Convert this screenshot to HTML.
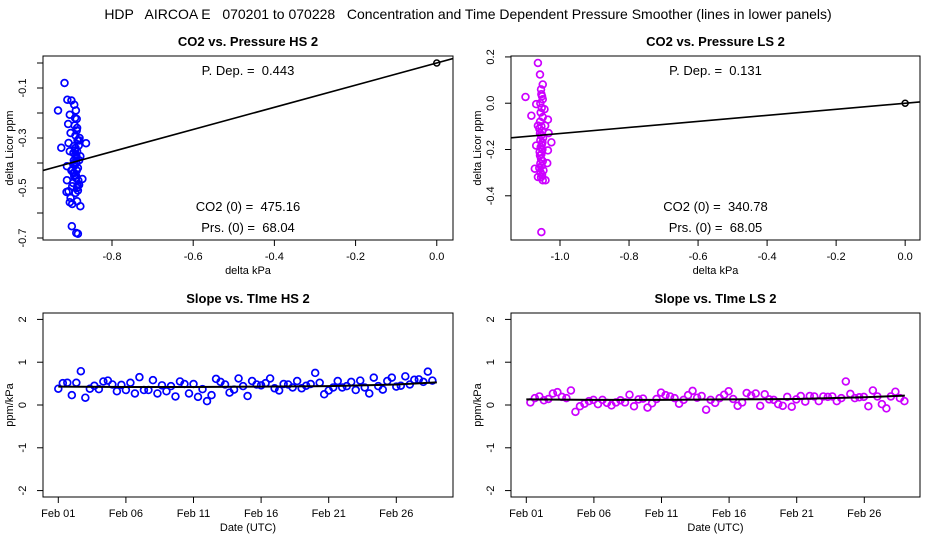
<!DOCTYPE html>
<html><head><meta charset="utf-8">
<style>
html,body{margin:0;padding:0;background:#fff;}
svg{display:block;font-family:"Liberation Sans",sans-serif;}
svg text{white-space:pre;}
</style></head>
<body>
<svg id="chart" width="936" height="540" viewBox="0 0 936 540" xmlns="http://www.w3.org/2000/svg" xml:space="preserve">
<rect width="936" height="540" fill="#fff"/>
<text x="468" y="19" font-size="14" text-anchor="middle">HDP   AIRCOA E   070201 to 070228   Concentration and Time Dependent Pressure Smoother (lines in lower panels)</text>
</svg>
<script>
// ---------- DATA ----------
const hsScatterX = [-0.917,-0.933,-0.91,-0.90,-0.893,-0.889,-0.904,-0.887,-0.892,-0.908,-0.925,-0.864,-0.88,-0.902,-0.907,-0.894,-0.886,-0.878,-0.904,-0.911,-0.898,-0.888,-0.881,-0.893,-0.911,-0.873,-0.881,-0.898,-0.907,-0.912,-0.89,-0.902,-0.886,-0.904,-0.878,-0.898,-0.899,-0.888,-0.884,-0.89,-0.885,-0.895,-0.888,-0.892,-0.884,-0.887,-0.893,-0.889,-0.883,-0.896,-0.886,-0.891,-0.882,-0.894,-0.889,-0.885,-0.9,-0.887,-0.881,-0.893,-0.888,-0.895,-0.884,-0.891,-0.886,-0.89];
const hsScatterY = [-0.08,-0.19,-0.147,-0.15,-0.167,-0.19,-0.207,-0.224,-0.25,-0.244,-0.339,-0.321,-0.30,-0.28,-0.32,-0.333,-0.353,-0.373,-0.353,-0.413,-0.427,-0.40,-0.389,-0.453,-0.469,-0.464,-0.487,-0.493,-0.513,-0.516,-0.52,-0.54,-0.553,-0.557,-0.573,-0.564,-0.653,-0.68,-0.683,-0.29,-0.31,-0.36,-0.38,-0.41,-0.42,-0.43,-0.44,-0.46,-0.47,-0.48,-0.5,-0.35,-0.33,-0.39,-0.45,-0.49,-0.43,-0.27,-0.31,-0.4,-0.37,-0.44,-0.51,-0.22,-0.26,-0.34];
const lsScatterX = [-1.064,-1.058,-1.05,-1.1,-1.083,-1.069,-1.054,-1.05,-1.045,-1.035,-1.043,-1.064,-1.033,-1.025,-1.069,-1.035,-1.058,-1.037,-1.073,-1.064,-1.05,-1.042,-1.054,-1.055,-1.052,-1.057,-1.053,-1.056,-1.05,-1.058,-1.054,-1.06,-1.052,-1.055,-1.049,-1.057,-1.053,-1.056,-1.051,-1.059,-1.054,-1.055,-1.05,-1.057,-1.053,-1.06,-1.048,-1.056,-1.052,-1.055,-1.058,-1.051];
const lsScatterY = [0.174,0.124,0.081,0.027,-0.054,-0.004,0.039,0.017,-0.026,-0.071,-0.097,-0.097,-0.129,-0.169,-0.183,-0.204,-0.226,-0.259,-0.283,-0.319,-0.333,-0.333,-0.557,0.06,0.03,0.0,-0.02,-0.04,-0.06,-0.08,-0.1,-0.11,-0.12,-0.14,-0.15,-0.16,-0.18,-0.19,-0.2,-0.21,-0.22,-0.24,-0.25,-0.26,-0.27,-0.28,-0.29,-0.3,-0.31,-0.32,-0.13,-0.17];
const hsPDep = 0.443;
const lsPDep = 0.131;
const hsSlopes = [0.38,0.51,0.52,0.23,0.52,0.79,0.17,0.38,0.45,0.37,0.55,0.57,0.48,0.32,0.47,0.35,0.52,0.27,0.65,0.35,0.35,0.58,0.27,0.46,0.32,0.44,0.2,0.55,0.49,0.27,0.49,0.19,0.37,0.09,0.23,0.61,0.54,0.48,0.29,0.36,0.62,0.44,0.21,0.56,0.48,0.46,0.51,0.62,0.39,0.34,0.49,0.48,0.41,0.56,0.39,0.45,0.49,0.75,0.52,0.25,0.34,0.41,0.56,0.41,0.44,0.54,0.35,0.57,0.41,0.27,0.64,0.44,0.36,0.56,0.64,0.43,0.45,0.67,0.48,0.59,0.6,0.54,0.78,0.57];
const lsSlopes = [0.06,0.16,0.2,0.11,0.14,0.27,0.3,0.19,0.16,0.34,-0.16,-0.03,0.03,0.09,0.12,0.02,0.12,0.05,-0.01,0.06,0.11,0.06,0.24,-0.03,0.13,0.15,-0.06,0.04,0.14,0.29,0.23,0.2,0.16,0.03,0.12,0.23,0.33,0.17,0.21,-0.11,0.12,0.05,0.16,0.24,0.32,0.14,-0.02,0.06,0.28,0.22,0.27,-0.02,0.25,0.13,0.12,0.02,-0.02,0.19,-0.04,0.13,0.21,0.08,0.21,0.2,0.09,0.2,0.19,0.2,0.09,0.16,0.55,0.26,0.16,0.18,0.19,-0.03,0.34,0.2,0.02,-0.08,0.2,0.31,0.16,0.09];
const smoothDays = [0,5,10,15,20,25,28];
const hsSmooth = [0.43,0.42,0.42,0.43,0.44,0.48,0.53];
const lsSmooth = [0.13,0.12,0.12,0.13,0.14,0.18,0.22];
const dateTickDays = [0,5,10,15,20,25];
const dateTickLabels = ["Feb 01","Feb 06","Feb 11","Feb 16","Feb 21","Feb 26"];

// ---------- HELPERS ----------
const svg = document.getElementById('chart');
const NS = 'http://www.w3.org/2000/svg';
function mk(tag, attrs, parent){
  const e = document.createElementNS(NS, tag);
  for (const k in attrs) e.setAttribute(k, attrs[k]);
  (parent||svg).appendChild(e);
  return e;
}
function lin(d0,d1,r0,r1){ return v => r0 + (v-d0)/(d1-d0)*(r1-r0); }

function frame(g, L, T, R, B){
  const f = mk('rect',{x:L,y:T,width:R-L,height:B-T,fill:'none',stroke:'#000','stroke-width':1},g);
  
  
}
function yAxis(g, L, sy, vals, labels, title, T, B){
  vals.forEach((v,i)=>{
    const y = sy(v);
    const t = mk('line',{x1:L-6,x2:L,y1:y,y2:y,stroke:'#000'},g);
    
    
    if (labels[i] !== '') {
      const lx = L-17;
      const tx = mk('text',{x:lx,y:y,'font-size':11,'text-anchor':'middle',transform:`rotate(-90 ${lx} ${y})`},g);
      tx.textContent = labels[i];
      
      
    }
  });
  const ax = mk('line',{x1:L,x2:L,y1:sy(vals[0]),y2:sy(vals[vals.length-1]),stroke:'#000'},g);
  
  
  const cy = (T+B)/2;
  const tx0 = L-30;
  const tt = mk('text',{x:tx0,y:cy,'font-size':11,'text-anchor':'middle',transform:`rotate(-90 ${tx0} ${cy})`},g);
  tt.textContent = title;
  
  
}
function xAxis(g, B, sx, vals, labels, title, L, R){
  vals.forEach((v,i)=>{
    const x = sx(v);
    const t = mk('line',{x1:x,x2:x,y1:B,y2:B+6,stroke:'#000'},g);
    
    
    const tx = mk('text',{x:x,y:B+20,'font-size':11,'text-anchor':'middle'},g);
    tx.textContent = labels[i];
    
    
  });
  const ax = mk('line',{x1:sx(vals[0]),x2:sx(vals[vals.length-1]),y1:B,y2:B,stroke:'#000'},g);
  
  
  const tt = mk('text',{x:(L+R)/2,y:B+34,'font-size':11,'text-anchor':'middle'},g);
  tt.textContent = title;
  
  
}
function title(g, x, y, s){
  const t = mk('text',{x:x,y:y,'font-size':13,'font-weight':'bold','text-anchor':'middle'},g);
  t.textContent = s;
  
  
}
function note(g, x, y, s, name){
  const t = mk('text',{x:x,y:y,'font-size':13,'text-anchor':'middle'},g);
  t.textContent = s;
  
  
}
function point(g, x, y, color){
  const c = mk('circle',{cx:x,cy:y,r:3.4,fill:'none',stroke:color,'stroke-width':1.7},g);
  
  
}

// ---------- SCATTER PANELS ----------
function scatterPanel(opt){
  const g = mk('g',{});
  
  
  const {L,T,R,B} = opt;
  const sx = lin(opt.xd[0],opt.xd[1],L,R);
  const sy = lin(opt.yd[0],opt.yd[1],B,T);
  title(g,(L+R)/2,T-10,opt.title);
  const cp = mk('clipPath',{id:opt.name+'-clip'},g);
  mk('rect',{x:L,y:T,width:R-L,height:B-T},cp);
  const inner = mk('g',{'clip-path':`url(#${opt.name}-clip)`},g);
  opt.xs.forEach((v,i)=>point(inner,sx(v),sy(opt.ys[i]),opt.color));
  const ln = mk('line',{x1:sx(opt.xd[0]),y1:sy(opt.xd[0]*opt.slope),x2:sx(opt.xd[1]),y2:sy(opt.xd[1]*opt.slope),stroke:'#000','stroke-width':1.6},inner);
  
  
  const o = mk('circle',{cx:sx(0),cy:sy(0),r:3,fill:'none',stroke:'#000','stroke-width':1.5},inner);
  
  
  frame(g,L,T,R,B);
  yAxis(g,L,sy,opt.yt,opt.ytl,'delta Licor ppm',T,B);
  xAxis(g,B,sx,opt.xt,opt.xtl,'delta kPa',L,R);
  note(g,(L+R)/2,T+19,'P. Dep. =  '+opt.slope.toFixed(3),'p-dep-label');
  note(g,(L+R)/2,B-29,opt.co2,'co2-zero-label');
  note(g,(L+R)/2,B-8,opt.prs,'prs-zero-label');
}
scatterPanel({name:'hs-scatter-panel',L:43,T:56,R:453,B:240,xd:[-0.970,0.040],yd:[-0.708,0.028],
  xs:hsScatterX,ys:hsScatterY,slope:hsPDep,color:'#0000ff',title:'CO2 vs. Pressure HS 2',
  yt:[0,-0.1,-0.2,-0.3,-0.4,-0.5,-0.6,-0.7],ytl:['','-0.1','','-0.3','','-0.5','','-0.7'],
  xt:[-0.8,-0.6,-0.4,-0.2,0],xtl:['-0.8','-0.6','-0.4','-0.2','0.0'],
  co2:'CO2 (0) =  475.16',prs:'Prs. (0) =  68.04'});
scatterPanel({name:'ls-scatter-panel',L:511,T:56,R:920,B:240,xd:[-1.142,0.043],yd:[-0.591,0.204],
  xs:lsScatterX,ys:lsScatterY,slope:lsPDep,color:'#cc00ff',title:'CO2 vs. Pressure LS 2',
  yt:[0.2,0,-0.2,-0.4],ytl:['0.2','0.0','-0.2','-0.4'],
  xt:[-1.0,-0.8,-0.6,-0.4,-0.2,0],xtl:['-1.0','-0.8','-0.6','-0.4','-0.2','0.0'],
  co2:'CO2 (0) =  340.78',prs:'Prs. (0) =  68.05'});

// ---------- TIME PANELS ----------
function timePanel(opt){
  const g = mk('g',{});
  
  
  const {L,T,R,B} = opt;
  const sx = lin(0,1,opt.feb1,opt.feb1+opt.pxDay);
  const sy = lin(-2.15,2.15,B,T);
  title(g,(L+R)/2,T-10,opt.title);
  opt.vals.forEach((v,i)=>point(g,sx(opt.start+i/3),sy(v),opt.color));
  const pts = smoothDays.map((d,i)=>sx(d)+','+sy(opt.smooth[i])).join(' ');
  const sl = mk('polyline',{points:pts,fill:'none',stroke:'#000','stroke-width':2},g);
  
  
  frame(g,L,T,R,B);
  yAxis(g,L,sy,[2,1,0,-1,-2],['2','1','0','-1','-2'],'ppm/kPa',T,B);
  xAxis(g,B,sx,dateTickDays,dateTickLabels,'Date (UTC)',L,R);
}
timePanel({name:'hs-slope-panel',L:43,T:313,R:453,B:497,feb1:58.3,pxDay:13.52,start:0,vals:hsSlopes,smooth:hsSmooth,color:'#0000ff',title:'Slope vs. TIme HS 2'});
timePanel({name:'ls-slope-panel',L:511,T:313,R:920,B:497,feb1:526.3,pxDay:13.52,start:0.3,vals:lsSlopes,smooth:lsSmooth,color:'#cc00ff',title:'Slope vs. TIme LS 2'});
</script>
</body></html>
